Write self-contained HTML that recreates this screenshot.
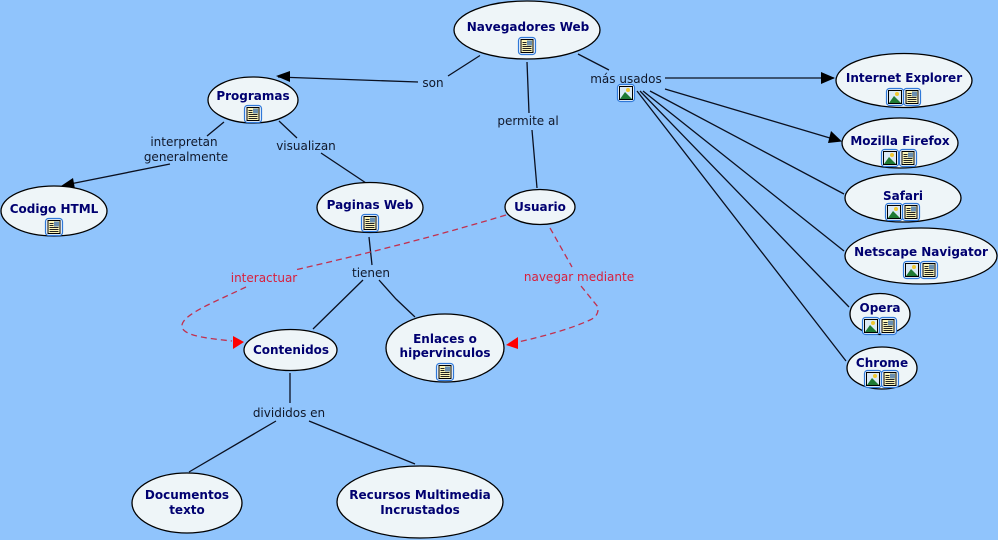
<!DOCTYPE html>
<html><head><meta charset="utf-8"><style>
html,body{margin:0;padding:0;background:#90c4fc}
svg{display:block}
.n{font:bold 12px "DejaVu Sans",Verdana,sans-serif;fill:#000070;text-anchor:middle}
.l{font:12px "DejaVu Sans",Verdana,sans-serif;fill:#10182a;text-anchor:middle}
.r{font:12px "DejaVu Sans",Verdana,sans-serif;fill:#d81f3c;text-anchor:middle}
ellipse{fill:#eef5f8;stroke:#000;stroke-width:1.3}
.c{stroke:#0a1020;stroke-width:1.3;fill:none}
.d{stroke:#c2304e;stroke-width:1.3;fill:none;stroke-dasharray:6 4}
</style></head><body>
<svg width="998" height="540" viewBox="0 0 998 540" xmlns="http://www.w3.org/2000/svg">
<defs>
<g id="doc"><rect x="-8.500" y="-8.500" width="17" height="17" rx="3" fill="#eef5fb" stroke="#2f78d8" stroke-width="1.200"/><rect x="-6" y="-6.500" width="12" height="13" fill="#fdf6b8" stroke="#000"/><rect x="0" y="-5.500" width="5" height="5" fill="#6a8fb0"/><path d="M-4.500-3.500h4M-4.500-1.500h4M-4.500 .5h9M-4.500 2.500h9M-4.500 4.500h9" stroke="#222" stroke-width="1"/></g>
<g id="img"><rect x="-8.500" y="-8.500" width="17" height="17" rx="3" fill="#eef5fb" stroke="#2f78d8" stroke-width="1.200"/><rect x="-6.500" y="-6.500" width="13" height="13" fill="#dbeaf5" stroke="#000"/><circle cx="2" cy="-3" r="2" fill="#f0c830"/><path d="M-6 6L-1-1L6 6Z" fill="#1f7a33"/></g>
</defs>
<rect width="998" height="540" fill="#90c4fc"/>

<path class="c" d="M480 55.500L448 76M418 82L278 77M527 62L529 113M532 130L537 188M578 54L609 70M665 78L834 78M665 89L832 138.600M650 91L844 194M643 91L844 251M640 91L849 307M637 91L846 361"/>
<path class="c" d="M224 122L207 136M170 164L70 184M279 121L297 138M321 153L366 183M369 237L372 265M363 280L313 329M379 280L396 299L415 317M290 373L290 403M276 421L189 472M309 421L415 464"/>
<path d="M276 76L290 71L290 82Z" fill="#000"/>
<path d="M835 78L821 72L821 84Z" fill="#000"/>
<path d="M842 141.500L828 143L831 131Z" fill="#000"/>
<path d="M61 186L73 178L75 189Z" fill="#000"/>

<path class="d" d="M506 215C430 238 360 255 295 270M246 287C215 302 180 315 182 327C184 337 215 339 232 341"/>
<path class="d" d="M550 228L572 267M581 286L598 307Q599 316 590 320C570 329 545 336 518 342"/>
<path d="M244 342L233 336L233 349Z" fill="#f00"/>
<path d="M506 345L518 337L518 349Z" fill="#f00"/>

<ellipse cx="527" cy="30" rx="73" ry="29"/>
<ellipse cx="253" cy="100" rx="45" ry="23"/>
<ellipse cx="54" cy="211" rx="53" ry="25"/>
<ellipse cx="370" cy="207.500" rx="53" ry="25"/>
<ellipse cx="540" cy="207" rx="35" ry="17.500"/>
<ellipse cx="290.500" cy="350" rx="46.500" ry="20.500"/>
<ellipse cx="445" cy="348" rx="59" ry="34"/>
<ellipse cx="187" cy="503" rx="55" ry="30"/>
<ellipse cx="420" cy="502" rx="83" ry="36"/>
<ellipse cx="904" cy="80.500" rx="68" ry="27"/>
<ellipse cx="900" cy="143" rx="58" ry="25"/>
<ellipse cx="903" cy="198" rx="58" ry="24"/>
<ellipse cx="921" cy="256" rx="76" ry="28"/>
<ellipse cx="880" cy="314" rx="30" ry="20.500"/>
<ellipse cx="882" cy="368" rx="35" ry="21"/>

<text class="n" x="528" y="31">Navegadores Web</text>
<text class="n" x="253" y="100">Programas</text>
<text class="n" x="54" y="213">Codigo HTML</text>
<text class="n" x="370" y="209">Paginas Web</text>
<text class="n" x="540" y="211">Usuario</text>
<text class="n" x="291" y="354">Contenidos</text>
<text class="n" x="445" y="343">Enlaces o</text>
<text class="n" x="445" y="357">hipervinculos</text>
<text class="n" x="187" y="499">Documentos</text>
<text class="n" x="187" y="514">texto</text>
<text class="n" x="420" y="499">Recursos Multimedia</text>
<text class="n" x="420" y="514">Incrustados</text>
<text class="n" x="904" y="82">Internet Explorer</text>
<text class="n" x="900" y="145">Mozilla Firefox</text>
<text class="n" x="903" y="200">Safari</text>
<text class="n" x="921" y="256">Netscape Navigator</text>
<text class="n" x="880" y="312">Opera</text>
<text class="n" x="882" y="367">Chrome</text>

<text class="l" x="433" y="87">son</text>
<text class="l" x="528" y="125">permite al</text>
<text class="l" x="626" y="83">más usados</text>
<text class="l" x="184" y="146">interpretan</text>
<text class="l" x="186" y="161">generalmente</text>
<text class="l" x="306" y="150">visualizan</text>
<text class="l" x="371" y="277">tienen</text>
<text class="l" x="289" y="417">divididos en</text>
<text class="r" x="264" y="282">interactuar</text>
<text class="r" x="579" y="281">navegar mediante</text>

<use href="#doc" x="527" y="46"/>
<use href="#img" x="626" y="93"/>
<use href="#doc" x="253" y="114"/>
<use href="#doc" x="54" y="227"/>
<use href="#doc" x="370" y="223"/>
<use href="#doc" x="445" y="372"/>
<use href="#img" x="895" y="97"/><use href="#doc" x="912" y="97"/>
<use href="#img" x="890" y="158"/><use href="#doc" x="908" y="158"/>
<use href="#img" x="894" y="212"/><use href="#doc" x="911" y="212"/>
<use href="#img" x="912" y="270"/><use href="#doc" x="929" y="270"/>
<use href="#img" x="871" y="326"/><use href="#doc" x="888" y="326"/>
<use href="#img" x="873" y="379"/><use href="#doc" x="890" y="379"/>
</svg>
</body></html>
